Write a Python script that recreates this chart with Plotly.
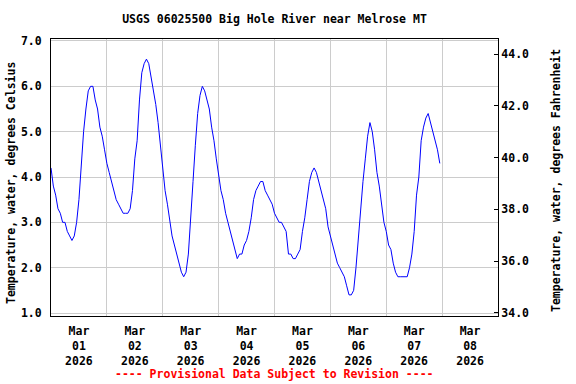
import pandas as pd
import plotly.graph_objects as go

# Hourly water temperature (deg C), starting 2026-03-01 00:00
temps_c = [
    # Mar 01
    4.2, 3.8, 3.6, 3.3, 3.2, 3.0, 3.0, 2.8, 2.7, 2.6, 2.7, 3.0,
    3.5, 4.3, 5.0, 5.5, 5.9, 6.0, 6.0, 5.7, 5.5, 5.1, 4.9, 4.6,
    # Mar 02
    4.3, 4.1, 3.9, 3.7, 3.5, 3.4, 3.3, 3.2, 3.2, 3.2, 3.3, 3.7,
    4.4, 4.8, 5.7, 6.3, 6.5, 6.6, 6.5, 6.2, 5.9, 5.6, 5.2, 4.7,
    # Mar 03
    4.1, 3.7, 3.4, 3.0, 2.7, 2.5, 2.3, 2.1, 1.9, 1.8, 1.9, 2.3,
    3.0, 3.9, 4.7, 5.4, 5.8, 6.0, 5.9, 5.7, 5.5, 5.1, 4.8, 4.4,
    # Mar 04
    4.0, 3.7, 3.5, 3.2, 3.0, 2.8, 2.6, 2.4, 2.2, 2.3, 2.3, 2.5,
    2.6, 2.8, 3.1, 3.5, 3.7, 3.8, 3.9, 3.9, 3.7, 3.6, 3.5, 3.4,
    # Mar 05
    3.2, 3.1, 3.0, 3.0, 2.9, 2.8, 2.3, 2.3, 2.2, 2.2, 2.3, 2.4,
    2.8, 3.1, 3.5, 3.9, 4.1, 4.2, 4.1, 3.9, 3.7, 3.5, 3.3, 2.9,
    # Mar 06
    2.7, 2.5, 2.3, 2.1, 2.0, 1.9, 1.8, 1.6, 1.4, 1.4, 1.5, 2.0,
    2.7, 3.4, 3.9, 4.4, 4.9, 5.2, 5.0, 4.6, 4.1, 3.8, 3.4, 3.0,
    # Mar 07
    2.8, 2.5, 2.4, 2.1, 1.9, 1.8, 1.8, 1.8, 1.8, 1.8, 2.0, 2.3,
    2.8, 3.6, 4.0, 4.8, 5.1, 5.3, 5.4, 5.2, 5.0, 4.8, 4.6, 4.3,
]
start_time = "2026-03-01 00:00"

day_labels = ["Mar<br>01<br>2026", "Mar<br>02<br>2026", "Mar<br>03<br>2026",
              "Mar<br>04<br>2026", "Mar<br>05<br>2026", "Mar<br>06<br>2026",
              "Mar<br>07<br>2026", "Mar<br>08<br>2026"]
label_times = ["2026-03-01 12:00", "2026-03-02 12:00", "2026-03-03 12:00",
               "2026-03-04 12:00", "2026-03-05 12:00", "2026-03-06 12:00",
               "2026-03-07 12:00", "2026-03-08 12:00"]
grid_times = ["2026-03-02", "2026-03-03", "2026-03-04", "2026-03-05",
              "2026-03-06", "2026-03-07", "2026-03-08"]
c_ticks = [1.0, 2.0, 3.0, 4.0, 5.0, 6.0, 7.0]
f_ticks = [34.0, 36.0, 38.0, 40.0, 42.0, 44.0]

times = pd.date_range(start_time, periods=len(temps_c), freq="h")

FONT = "DejaVu Sans Mono"
W, H = 576, 384
ML, MR, MT, MB = 51, 78, 39, 68
PW, PH = W - ML - MR, H - MT - MB

fig = go.Figure()
fig.add_trace(go.Scatter(x=times, y=temps_c, mode="lines",
                         line=dict(color="#0000FF", width=1),
                         showlegend=False, hoverinfo="x+y"))
fig.add_trace(go.Scatter(x=[times[0]], y=[None], yaxis="y2", mode="lines",
                         showlegend=False, hoverinfo="skip"))

fig.update_layout(
    width=W, height=H,
    margin=dict(l=ML, r=MR, t=MT, b=MB, autoexpand=False),
    paper_bgcolor="white", plot_bgcolor="white",
    font=dict(family=FONT, size=11.5, color="black", weight="bold"),
    title=dict(text="USGS 06025500 Big Hole River near Melrose MT",
               x=0.5, xref="paper", xanchor="center",
               y=1 - 19 / H, yref="container", yanchor="middle",
               font=dict(family=FONT, size=11.5, color="black", weight="bold")),
    xaxis=dict(type="date", range=["2026-03-01", "2026-03-09"],
               tickmode="array", tickvals=label_times, ticktext=day_labels,
               showgrid=False, ticks="", zeroline=False, automargin=False,
               ticklabelstandoff=4,
               showline=True, linecolor="black", linewidth=1, mirror=True,
               tickfont=dict(family=FONT, size=11.5, weight="bold"),
               minor=dict(tickmode="array", tickvals=grid_times,
                          showgrid=True, gridcolor="#cccccc", gridwidth=1,
                          ticks="")),
    yaxis=dict(range=[0.934, 7.044], tickmode="array", tickvals=c_ticks,
               ticktext=[f"{v:.1f}" for v in c_ticks],
               showgrid=True, gridcolor="#cccccc", gridwidth=1,
               ticks="", zeroline=False, ticklabelstandoff=6, automargin=False,
               showline=True, linecolor="black", linewidth=1, mirror=True,
               tickfont=dict(family=FONT, size=11.5, weight="bold")),
    yaxis2=dict(overlaying="y", side="right", range=[33.88, 44.59],
                tickmode="array", tickvals=f_ticks,
                ticktext=[f"{v:.1f}" for v in f_ticks],
                showgrid=False, zeroline=False, automargin=False,
                ticks="inside", ticklen=4, tickcolor="black",
                showline=True, linecolor="black", linewidth=1,
                tickfont=dict(family=FONT, size=11.5, weight="bold")),
    annotations=[
        dict(text="Temperature, water, degrees Celsius", textangle=-90,
             xref="paper", yref="paper", x=(11 - ML) / PW, y=1 - (183 - MT) / PH,
             xanchor="center", yanchor="middle", showarrow=False,
             font=dict(family=FONT, size=11.5, color="black", weight="bold")),
        dict(text="Temperature, water, degrees Fahrenheit", textangle=-90,
             xref="paper", yref="paper", x=(556 - ML) / PW, y=1 - (181 - MT) / PH,
             xanchor="center", yanchor="middle", showarrow=False,
             font=dict(family=FONT, size=11.5, color="black", weight="bold")),
        dict(text="---- Provisional Data Subject to Revision ----",
             xref="paper", yref="paper", x=0.5, y=-(374 - (H - MB)) / PH,
             xanchor="center", yanchor="middle", showarrow=False,
             font=dict(family=FONT, size=11.5, color="#FF0000", weight="bold")),
    ],
)

fig.write_html("out.html",
               config={"displayModeBar": False},
               post_script="document.body.style.margin='0';"
                           "document.body.style.padding='0';")
